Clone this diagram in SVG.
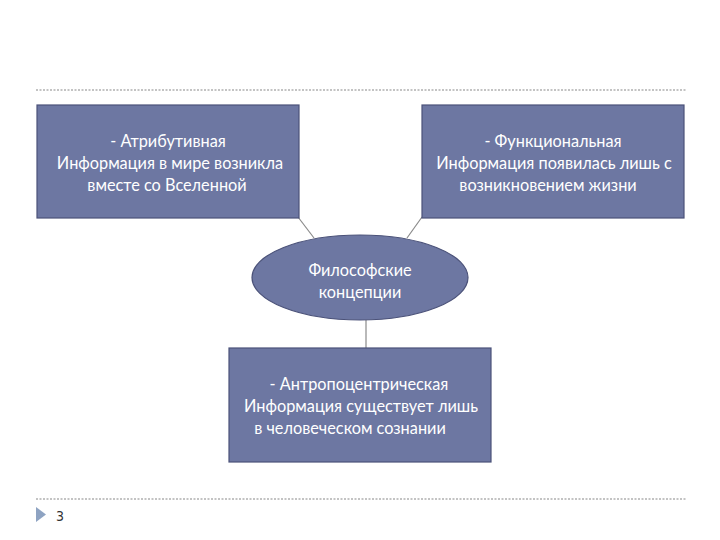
<svg xmlns="http://www.w3.org/2000/svg" width="720" height="540" viewBox="0 0 720 540">
<style>
.box{fill:#6d77a2;stroke:#4b5279;stroke-width:1.2}
.t{font-family:Lato,"Open Sans","Noto Sans",sans-serif;font-size:16.3px;fill:#ffffff;text-anchor:middle}
.dot{stroke:#c3c3c3;stroke-width:2;stroke-dasharray:2 1.5}
.conn{stroke:#8a8a8a;stroke-width:1.2;fill:none}
</style>
<rect width="720" height="540" fill="#ffffff"/>
<line class="dot" x1="36" y1="90" x2="686" y2="90"/>
<line class="dot" x1="36" y1="499" x2="686" y2="499"/>
<polygon points="36,507 46,514.5 36,522" fill="#8ea3c2"/>
<text x="56" y="521" font-family="'DejaVu Sans Condensed','DejaVu Sans',sans-serif" font-size="14" fill="#333333">3</text>
<g id="connectors">
<line class="conn" x1="298" y1="217" x2="314" y2="238"/>
<line class="conn" x1="422" y1="217" x2="407" y2="238"/>
<line class="conn" x1="366" y1="320" x2="366" y2="348"/>
</g>
<g id="n_attr">
<rect class="box" x="37" y="105" width="262" height="113"/>
<text class="t" x="168" y="147">- Атрибутивная</text>
<text class="t" x="170" y="169">Информация в мире возникла</text>
<text class="t" x="167" y="191">вместе со Вселенной</text>
</g>
<g id="n_func">
<rect class="box" x="422" y="105" width="262" height="113"/>
<text class="t" x="553" y="147">- Функциональная</text>
<text class="t" x="554" y="169">Информация появилась лишь с</text>
<text class="t" x="548" y="191">возникновением жизни</text>
</g>
<g id="n_center">
<ellipse class="box" cx="360" cy="277.5" rx="108" ry="42.5"/>
<text class="t" x="360" y="276">Философские</text>
<text class="t" x="360" y="298">концепции</text>
</g>
<g id="n_anthro">
<rect class="box" x="229" y="348" width="262" height="114"/>
<text class="t" x="359" y="390">- Антропоцентрическая</text>
<text class="t" x="361" y="412">Информация существует лишь</text>
<text class="t" x="350" y="434">в человеческом сознании</text>
</g>
</svg>
